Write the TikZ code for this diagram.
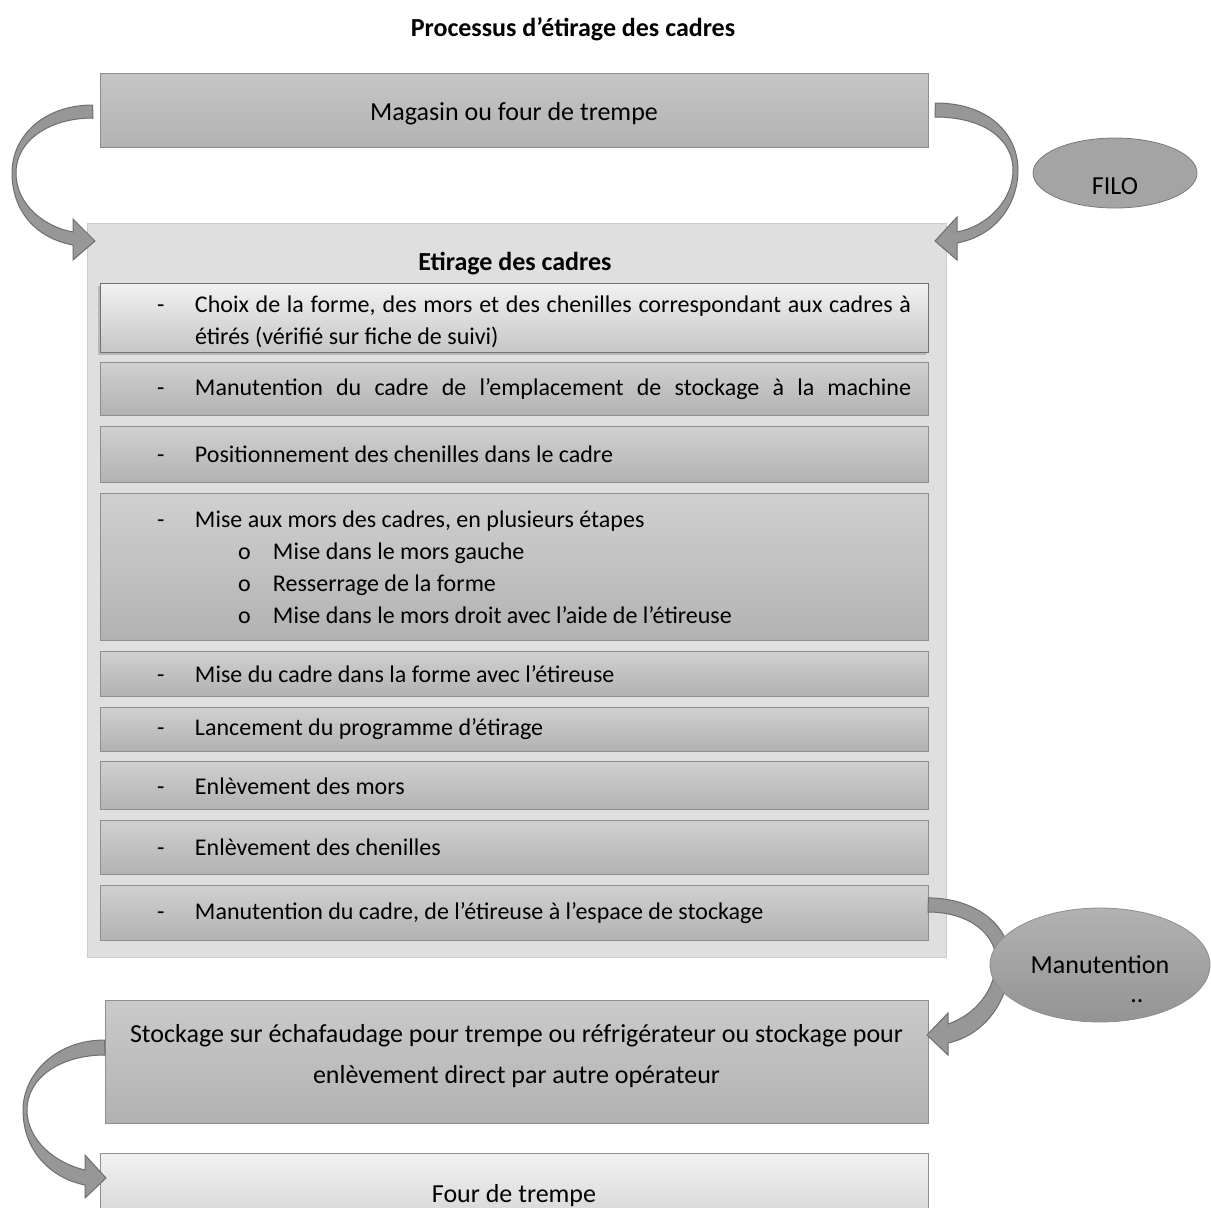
\documentclass[tikz,border=0pt]{standalone}
\usepackage{fontspec}
\setmainfont{Carlito}
\usetikzlibrary{positioning,shapes,shadows}

\definecolor{fondcadre}{HTML}{DFDFDF}
\definecolor{bordcadre}{HTML}{CBCBCB}
\definecolor{haut}{HTML}{D0D0D0}
\definecolor{bas}{HTML}{B2B2B2}
\definecolor{bord}{HTML}{8E8E8E}
\definecolor{hautclair}{HTML}{F2F2F2}
\definecolor{basclair}{HTML}{C6C6C6}
\definecolor{flechegris}{HTML}{979797}
\definecolor{flechebord}{HTML}{6E6E6E}
\definecolor{bulle}{HTML}{A4A4A4}
\definecolor{bullebord}{HTML}{7A7A7A}

\newcommand{\tiret}[1]{\hspace*{28.5pt}\makebox[19pt][l]{-}\parbox[t]{358pt}{\spaceskip=0pt\xspaceskip=0pt\leftskip=0pt\rightskip=0pt\hyphenpenalty=10000 #1}}
\newcommand{\rond}[1]{\\\hspace*{21.5pt}\makebox[17.5pt][l]{o}#1}

\begin{document}
\begin{tikzpicture}[x=0.5pt, y=-0.5pt,
	bloc/.style = {draw=bord, top color=haut, bottom color=bas, minimum width=414pt, inner sep=0pt, font=\fontsize{13}{16}\selectfont},
	etape/.style = {bloc, text width=414pt, align=left, font=\fontsize{12}{16}\selectfont},
	fleche/.style = {fill=flechegris, draw=flechebord, line width=0.5pt},
	titre/.style = {font=\bfseries\fontsize{13}{16}\selectfont},
	node distance=5pt]
	\useasboundingbox (0,0) rectangle (1211,1207);
	\node[titre] (titre) at (573,29) {Processus d’étirage des cadres};
	\node[bloc, minimum height=37pt, top color=haut!95!black, bottom color=bas, text height=10pt, text depth=0pt] (magasin) at (514,110) {Magasin ou four de trempe};
	\node[draw=bordcadre, fill=fondcadre, minimum width=429.5pt, minimum height=367pt, inner sep=0pt] (cadre) at (516.5,590) {};
	\node[titre] (sous) at (515,264) {Etirage des cadres};
	\node[etape, minimum height=34.5pt, top color=hautclair, bottom color=basclair, draw=bord!80!black,
		drop shadow={shadow xshift=-1pt, shadow yshift=-1.5pt, opacity=0.4}] (e1) at (514,317.5)
		{\tiret{\rule{0pt}{12.7pt}Choix de la forme, des mors et des chenilles correspondant aux cadres à\linebreak étirés (vérifié sur fiche de suivi)}};
	\node[etape, minimum height=26.5pt, below=of e1] (e2) {\tiret{\parfillskip=0pt Manutention du cadre de l’emplacement de stockage à la machine}};
	\node[etape, minimum height=28pt, below=of e2] (e3) {\tiret{Positionnement des chenilles dans le cadre}};
	\node[etape, minimum height=73.5pt, below=of e3] (e4) {\tiret{\raggedright Mise aux mors des cadres, en plusieurs étapes
		\rond{Mise dans le mors gauche}
		\rond{Resserrage de la forme}
		\rond{Mise dans le mors droit avec l’aide de l’étireuse}}};
	\node[etape, minimum height=22.5pt, below=of e4] (e5) {\tiret{Mise du cadre dans la forme avec l’étireuse}};
	\node[etape, minimum height=22pt, below=of e5] (e6) {\tiret{Lancement du programme d’étirage}};
	\node[etape, minimum height=24pt, below=of e6] (e7) {\tiret{Enlèvement des mors}};
	\node[etape, minimum height=27pt, below=of e7] (e8) {\tiret{Enlèvement des chenilles}};
	\node[etape, minimum height=27.5pt, below=of e8] (e9) {\tiret{Manutention du cadre, de l’étireuse à l’espace de stockage}};
	\node[bloc, minimum width=411.5pt, minimum height=61.5pt, text width=411.5pt, align=flush center, top color=haut!97!black, bottom color=bas,
		font=\fontsize{13}{20.5}\selectfont] (stockage) at (516.5,1061.5)
		{Stockage sur échafaudage pour trempe ou réfrigérateur ou stockage pour\\enlèvement direct par autre opérateur\rule[-8pt]{0pt}{1pt}};
	\node[bloc, minimum height=40pt, top color=hautclair, bottom color=haut, text height=9.5pt, text depth=0pt] (four) at (514,1193) {Four de trempe};
	% fleches courbes
	\draw[fleche] (magasin.west) ++(-7,-5) .. controls (45,105) and (12,135) .. (12,173) .. controls (12,210) and (35,238) .. (73,245)
		-- (73,260) -- (95,241) -- (73,219) -- (73,232) .. controls (45,227) and (16,205) .. (16,173) .. controls (16,140) and (50,118) .. (93,118) -- cycle;
	\draw[fleche] (magasin.east) ++(7,-7) .. controls (990,103) and (1018,135) .. (1018,170) .. controls (1018,205) and (995,236) .. (957,243)
		-- (957,260) -- (935,241) -- (957,217) -- (957,232) .. controls (988,226) and (1013,200) .. (1013,170) .. controls (1013,140) and (985,117) .. (935,117) -- cycle;
	\draw[fleche] (e9.east) ++(0,-15) .. controls (975,898) and (1010,925) .. (1010,960) .. controls (1010,1000) and (985,1035) .. (948,1043)
		-- (948,1055) -- (927,1035) -- (948,1013) -- (948,1024) .. controls (975,1015) and (996,990) .. (996,960) .. controls (996,935) and (970,912) .. (928,912) -- cycle;
	\draw[fleche] (stockage.west) ++(0,-21.5) .. controls (55,1040) and (23,1075) .. (23,1110) .. controls (23,1150) and (50,1178) .. (85,1185)
		-- (85,1198) -- (106,1178) -- (85,1155) -- (85,1170) .. controls (55,1163) and (27,1140) .. (27,1110) .. controls (27,1078) and (60,1055) .. (105,1055) -- cycle;
	\node[ellipse, draw=bullebord, fill=bulle, minimum width=82pt, minimum height=35pt, inner sep=0pt, text height=21pt, text depth=0pt,
		font=\fontsize{13}{16}\selectfont] (filo) at (1115,173) {FILO};
	\node[ellipse, draw=bord, top color=bas, bottom color=bulle!90!black, minimum width=110pt, minimum height=57pt, inner sep=0pt,
		font=\fontsize{13}{16}\selectfont] (manut) at (1100,965) {Manutention};
	\node[font=\fontsize{13}{16}\selectfont] (suite) at ([xshift=18.5pt, yshift=-18pt]manut.center) {..};
\end{tikzpicture}
\end{document}
